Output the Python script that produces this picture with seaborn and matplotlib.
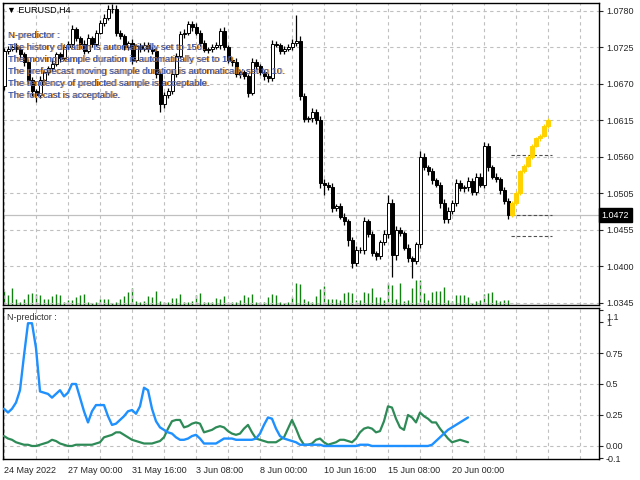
import numpy as np
import pandas as pd
import seaborn as sns
import matplotlib.pyplot as plt
import matplotlib.transforms as mtransforms

sns.set_style("white")
plt.rcParams['font.family'] = ['Liberation Sans', 'DejaVu Sans']

# ---- data (EURUSD H4) ----
first_open = 1.0667
closes = [1.0719, 1.0722, 1.0725, 1.0722, 1.0714, 1.0703, 1.0675, 1.0659, 1.0653, 1.0675,
          1.0687, 1.0694, 1.0700, 1.0714, 1.0709, 1.0725, 1.0730, 1.0753, 1.0738, 1.0730,
          1.0719, 1.0738, 1.0730, 1.0747, 1.0761, 1.0769, 1.0782, 1.0783, 1.0747, 1.0741,
          1.0725, 1.0731, 1.0706, 1.0727, 1.0722, 1.0728, 1.0722, 1.0719, 1.0684, 1.0639,
          1.0653, 1.0659, 1.0684, 1.0712, 1.0744, 1.0747, 1.0760, 1.0756, 1.0747, 1.0731,
          1.0720, 1.0722, 1.0725, 1.0728, 1.0750, 1.0725, 1.0706, 1.0703, 1.0684, 1.0687,
          1.0681, 1.0656, 1.0703, 1.0697, 1.0687, 1.0681, 1.0678, 1.0730, 1.0728, 1.0719,
          1.0722, 1.0725, 1.0731, 1.0734, 1.0651, 1.0617, 1.0618, 1.0628, 1.0615, 1.0521,
          1.0518, 1.0514, 1.0483, 1.0486, 1.0470, 1.0463, 1.0434, 1.0400, 1.0419, 1.0420,
          1.0463, 1.0444, 1.0415, 1.0411, 1.0431, 1.0444, 1.0491, 1.0412, 1.0450, 1.0445,
          1.0423, 1.0408, 1.0403, 1.0428, 1.0560, 1.0544, 1.0538, 1.0525, 1.0518, 1.0491,
          1.0466, 1.0478, 1.0491, 1.0521, 1.0513, 1.0514, 1.0524, 1.0507, 1.0530, 1.0518,
          1.0576, 1.0544, 1.0530, 1.0527, 1.0510, 1.0494, 1.0472]
# wick lengths in pips
up_wick = [5, 4, 3, 6, 4, 3, 4, 5, 3, 6,
           4, 3, 5, 4, 3, 5, 4, 6, 3, 4,
           5, 6, 3, 4, 5, 6, 6, 7, 5, 4,
           4, 3, 6, 3, 4, 5, 4, 3, 4, 5,
           4, 5, 6, 4, 5, 6, 5, 4, 5, 4,
           4, 3, 4, 5, 4, 6, 3, 4, 5, 4,
           3, 4, 5, 4, 3, 4, 5, 6, 4, 3,
           4, 5, 6, 40, 8, 5, 4, 5, 4, 6,
           5, 4, 6, 3, 4, 5, 4, 5, 6, 4,
           6, 4, 5, 3, 4, 6, 11, 5, 6, 4,
           4, 5, 3, 4, 8, 6, 4, 5, 3, 4,
           5, 6, 4, 5, 4, 3, 5, 4, 6, 5,
           6, 5, 4, 5, 3, 4, 4]
dn_wick = [6, 4, 3, 4, 5, 6, 5, 8, 10, 4,
           3, 4, 5, 3, 6, 4, 3, 5, 4, 6,
           4, 3, 5, 4, 3, 4, 3, 5, 6, 4,
           5, 4, 6, 3, 4, 3, 5, 4, 6, 11,
           6, 4, 5, 4, 3, 5, 4, 6, 4, 5,
           3, 4, 5, 3, 6, 4, 5, 6, 4, 5,
           4, 6, 3, 5, 4, 6, 5, 4, 3, 5,
           4, 3, 5, 4, 6, 5, 4, 6, 5, 8,
           16, 4, 6, 5, 4, 6, 8, 8, 5, 4,
           6, 5, 4, 7, 5, 4, 6, 33, 8, 5,
           4, 6, 26, 5, 6, 4, 5, 6, 4, 8,
           6, 5, 4, 5, 4, 6, 5, 4, 5, 4,
           5, 6, 4, 5, 6, 5, 6]
volumes = [14, 10, 17, 6, 3, 6, 11, 12, 11, 10, 6, 6, 9, 11, 10, 3, 5, 5, 8, 10,
           11, 3, 2, 3, 6, 6, 6, 2, 3, 6, 9, 13, 17, 4, 3, 4, 9, 8, 14, 4,
           3, 3, 7, 7, 11, 3, 3, 4, 10, 12, 3, 3, 3, 7, 6, 9, 3, 3, 3, 5,
           10, 8, 11, 3, 3, 3, 8, 11, 10, 3, 2, 3, 8, 22, 21, 6, 4, 3, 9, 16,
           19, 6, 6, 6, 5, 12, 13, 12, 5, 5, 13, 12, 17, 8, 8, 5, 22, 20, 6, 22,
           4, 5, 17, 25, 25, 12, 5, 13, 14, 14, 18, 5, 4, 10, 10, 10, 8, 2, 4, 5,
           11, 12, 13, 5, 4, 5, 5]

# forecast (yellow) candles
fc_open = 1.0472
fc_closes = [1.0491, 1.0505, 1.0538, 1.0546, 1.0560, 1.0576, 1.0588, 1.0591, 1.0607, 1.0615]
fc_wick = [2, 3, 2, 3, 2, 3, 2, 4, 2, 3]
fc_levels = [1.0562, 1.0472, 1.0441]
last_price = 1.0472

# N-predictor sub-window lines
blue_vals = [0.30, 0.27, 0.30, 0.35, 0.45, 0.73, 0.99, 0.99, 0.79, 0.44,
             0.43, 0.42, 0.39, 0.42, 0.45, 0.40, 0.43, 0.50, 0.50, 0.39,
             0.28, 0.19, 0.28, 0.33, 0.33, 0.33, 0.24, 0.17, 0.18, 0.21,
             0.24, 0.28, 0.29, 0.26, 0.32, 0.47, 0.45, 0.30, 0.20, 0.15,
             0.13, 0.11, 0.10, 0.07, 0.05, 0.05, 0.06, 0.08, 0.09, 0.06,
             0.02, 0.02, 0.02, 0.02, 0.04, 0.06, 0.06, 0.06, 0.05, 0.05,
             0.05, 0.05, 0.05, 0.06, 0.10, 0.17, 0.23, 0.22, 0.14, 0.08,
             0.06, 0.05, 0.04, 0.03, 0.01, 0.01, 0.01, 0.01, 0.01, 0.01,
             0.00, 0.00, 0.00, 0.00, 0.00, 0.00, 0.00, 0.00, 0.00, 0.01,
             0.01, 0.01, 0.00, 0.00, 0.00, 0.00, 0.00, 0.00, 0.00, 0.00,
             0.00, 0.00, 0.00, 0.00, 0.00, 0.00, 0.00, 0.01, 0.04, 0.07,
             0.10, 0.13, 0.15, 0.17, 0.19, 0.21, 0.23]
green_vals = [0.08, 0.06, 0.05, 0.03, 0.02, 0.01, 0.01, 0.00, 0.00, 0.01,
              0.02, 0.03, 0.05, 0.04, 0.02, 0.01, 0.00, 0.00, 0.01, 0.01,
              0.01, 0.01, 0.01, 0.02, 0.03, 0.07, 0.08, 0.09, 0.11, 0.11,
              0.09, 0.07, 0.05, 0.04, 0.03, 0.02, 0.02, 0.02, 0.03, 0.04,
              0.07, 0.14, 0.20, 0.21, 0.21, 0.15, 0.16, 0.18, 0.19, 0.18,
              0.11, 0.12, 0.13, 0.15, 0.16, 0.15, 0.12, 0.10, 0.09, 0.10,
              0.14, 0.17, 0.11, 0.06, 0.05, 0.04, 0.03, 0.03, 0.03, 0.05,
              0.07, 0.14, 0.21, 0.14, 0.06, 0.01, 0.01, 0.02, 0.05, 0.06,
              0.03, 0.01, 0.02, 0.03, 0.05, 0.05, 0.04, 0.03, 0.06, 0.11,
              0.14, 0.15, 0.14, 0.11, 0.12, 0.20, 0.32, 0.31, 0.22, 0.15,
              0.13, 0.25, 0.23, 0.19, 0.27, 0.24, 0.22, 0.19, 0.19, 0.14,
              0.10, 0.06, 0.03, 0.04, 0.05, 0.04, 0.03]

price_ticks = [1.0780, 1.0725, 1.0670, 1.0615, 1.0560, 1.0505, 1.0450, 1.0395, 1.0340]
price_labels = ["1.0780", "1.0725", "1.0670", "1.0615", "1.0560", "1.0505", "1.0455", "1.0400", "1.0345"]
osc_ticks = [1.1, 1.0, 0.75, 0.5, 0.25, 0.0, -0.1]
osc_labels = ["1.1", "1", "0.75", "0.5", "0.25", "0.00", "-0.1"]
time_pos = [0, 16, 32, 48, 64, 80, 96, 112]
time_labels = ["24 May 2022", "27 May 00:00", "31 May 16:00", "3 Jun 08:00",
               "8 Jun 00:00", "10 Jun 16:00", "15 Jun 08:00", "20 Jun 00:00"]
info_lines = ["N-predictor :",
              "The history duration is automatically set to 150.",
              "The moving sample duration is automatically set to 10.",
              "The preforecast moving sample duration is automatically set to 10.",
              "The tendency of predicted sample is acceptable.",
              "The forecast is acceptable."]

# ---- figure ----
W, H = 640, 480
fig = plt.figure(figsize=(6.4, 4.8), dpi=100)
ax = fig.add_axes([3 / W, 1 - 305 / H, 596 / W, 302 / H])
ax2 = fig.add_axes([3 / W, 21 / H, 596 / W, 151 / H])
grid_kw = dict(color='#c0c0c0', lw=0.8, ls=(0, (3, 3)))

# volumes behind price
axv = ax.twinx()
n = len(closes)
idx = np.arange(n)
axv.vlines(idx, 0, volumes, color='#137f13', lw=1.0)
axv.set_ylim(0, 302)
axv.set_axis_off()
ax.set_zorder(axv.get_zorder() + 1)
ax.patch.set_visible(False)

c = np.array(closes)
o = np.r_[first_open, c[:-1]]
hi = np.maximum(o, c) + np.array(up_wick) * 1e-4
lo = np.minimum(o, c) - np.array(dn_wick) * 1e-4
ax.vlines(idx, lo, hi, color='black', lw=0.9, zorder=3)
bull = c >= o
ax.bar(idx[bull], (c - o)[bull], bottom=o[bull], width=0.75, facecolor='white',
       edgecolor='black', lw=0.7, zorder=4)
ax.bar(idx[~bull], (c - o)[~bull], bottom=o[~bull], width=0.75, facecolor='black',
       edgecolor='black', lw=0.7, zorder=4)

# forecast candles
fidx = np.arange(n, n + len(fc_closes))
fc = np.array(fc_closes)
fo = np.r_[fc_open, fc[:-1]]
fw = np.array(fc_wick) * 1e-4
ax.vlines(fidx, np.minimum(fo, fc) - fw, np.maximum(fo, fc) + fw, color='#ffd200', lw=0.9, zorder=3)
ax.bar(fidx, fc - fo, bottom=fo, width=0.8, facecolor='#ffd200', edgecolor='#ffd200', lw=0.7, zorder=4)
for lv in fc_levels:
    ax.hlines(lv, n - 0.2, n + len(fc_closes) - 0.1, color='#505050', lw=0.8, ls=(0, (3, 2)), zorder=2)

ax.axhline(last_price, color='#c0c0c0', lw=0.9, zorder=1)

ax.set_xlim(-0.25, 148.75)
axv.set_xlim(-0.25, 148.75)
ax.set_ylim(1.03369, 1.07914)
ax.yaxis.tick_right()
ax.set_yticks(price_ticks, price_labels)
ax.tick_params(axis='y', direction='out', length=3, width=0.8, labelsize=6.5, pad=2)
ax.set_xticks(range(0, 149, 8))
ax.tick_params(axis='x', length=0, labelbottom=False)
ax.grid(True, **grid_kw)
ax.set_axisbelow(True)
for s in ax.spines.values():
    s.set_color('black')
    s.set_linewidth(1.0)

ax.text(1.004, last_price, "1.0472", transform=mtransforms.blended_transform_factory(ax.transAxes, ax.transData),
        color='white', fontsize=6.5, va='center', ha='left',
        bbox=dict(boxstyle='square,pad=0.3', fc='black', ec='black'))

# ---- N-predictor sub-window ----
osc = pd.DataFrame({'bar': np.arange(len(blue_vals)), 'blue': blue_vals, 'green': green_vals})
sns.lineplot(data=osc, x='bar', y='green', ax=ax2, color='#2e8b57', lw=1.6, zorder=3)
sns.lineplot(data=osc, x='bar', y='blue', ax=ax2, color='#1e90ff', lw=1.7, zorder=3)
ax2.set_xlim(-0.25, 148.75)
ax2.set_ylim(-0.105, 1.113)
ax2.set_xlabel('')
ax2.set_ylabel('')
ax2.yaxis.tick_right()
ax2.set_yticks(osc_ticks, osc_labels)
ax2.tick_params(axis='y', direction='out', length=3, width=0.8, labelsize=6.5, pad=2)
# the top label sits a little lower in the reference
top_lab = ax2.get_yticklabels()[0]
top_lab.set_transform(top_lab.get_transform() + mtransforms.ScaledTranslation(0, -5 / 72, fig.dpi_scale_trans))
ax2.set_xticks(time_pos, time_labels)
ax2.set_xticks(range(0, 149, 8), minor=True)
ax2.tick_params(axis='x', which='major', direction='out', length=3, width=0.8, labelsize=6.5, pad=2)
ax2.tick_params(axis='x', which='minor', length=0)
plt.setp(ax2.get_xticklabels(), ha='left')
ax2.grid(True, axis='x', which='both', **grid_kw)
for lv in [0.0, 0.25, 0.5, 0.75]:
    ax2.axhline(lv, zorder=0, **grid_kw)
ax2.set_axisbelow(True)
for s in ax2.spines.values():
    s.set_color('black')
    s.set_linewidth(1.0)

# ---- texts ----
fig.text(7 / W, 1 - 10 / H, "\u25bc EURUSD,H4", fontsize=6.5, va='center', ha='left', color='black')
for k, line in enumerate(info_lines):
    yy = 1 - (35 + 12.2 * k) / H
    fig.text(9 / W, yy, line, fontsize=6.75, va='center', ha='left', color='#e08a1e')
    fig.text(8 / W, yy, line, fontsize=6.75, va='center', ha='left', color='#2a4cb0')
fig.text(7 / W, 1 - 317 / H, "N-predictor :", fontsize=6.5, va='center', ha='left', color='#333333')

fig.savefig('out.png', dpi=100)
